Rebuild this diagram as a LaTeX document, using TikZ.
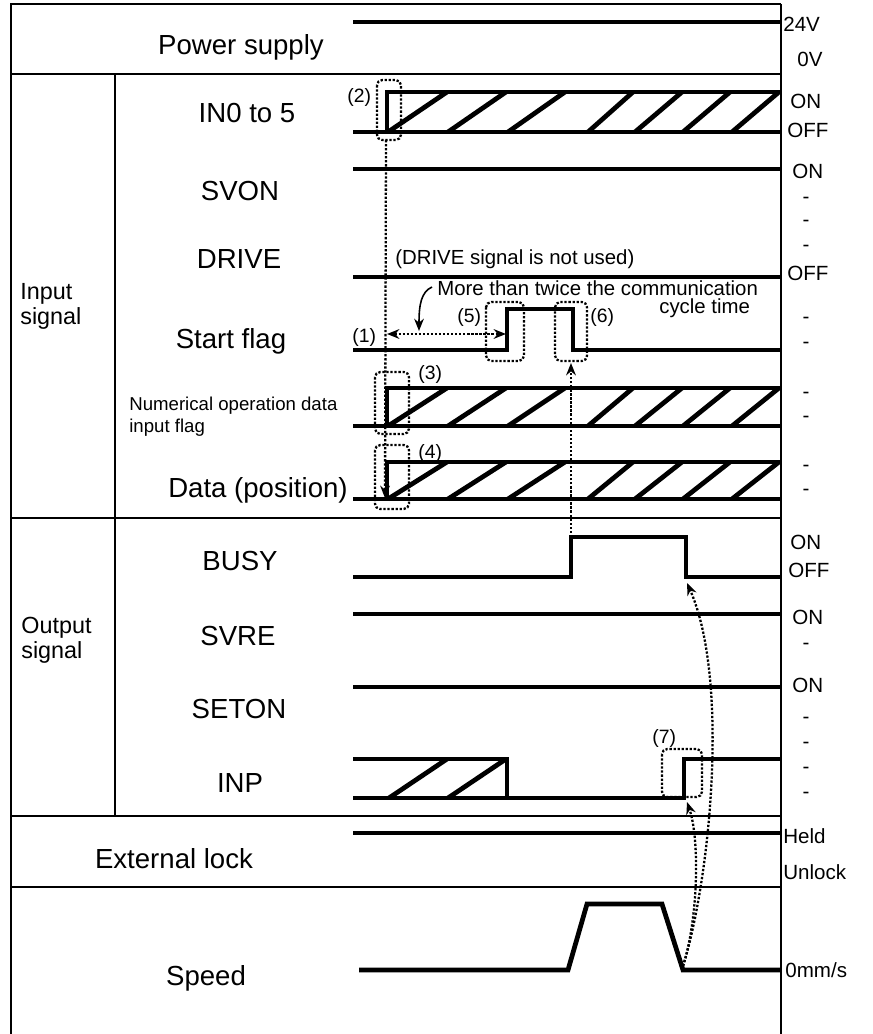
\documentclass[tikz,border=0pt]{standalone}
\usepackage{fontspec}
\setmainfont{Liberation Sans}
\usetikzlibrary{arrows.meta}
\tikzset{
	frame/.style={line width=1.1pt},
	sig/.style={line width=2.7pt},
	dbox/.style={densely dotted,line width=1.3pt,rounded corners=3pt},
	darr/.style={densely dotted,line width=1.3pt},
	big/.style={font=\fontsize{15.7}{18}\selectfont,inner sep=0pt,anchor=base},
	grp/.style={font=\fontsize{13.3}{14.2}\selectfont,inner sep=0pt,anchor=north west,align=left},
	lvl/.style={font=\fontsize{11.7}{14}\selectfont,inner sep=0pt,anchor=base west},
	note/.style={font=\fontsize{11.6}{14}\selectfont,inner sep=0pt,anchor=base west},
	tag/.style={font=\fontsize{11}{13}\selectfont,inner sep=0pt,anchor=base west}
}
\begin{document}
\begin{tikzpicture}[x=0.02cm,y=-0.02cm,>={Stealth[length=7pt,width=5.5pt]}]
	\useasboundingbox (0,0) rectangle (872,1034);
	% frame
	\draw[frame] (11,1034)--(11,4)--(781,4);
	\draw[frame,line width=1.4pt] (781,4)--(781,1034);
	\draw[frame] (11,74)--(781,74);
	\draw[frame] (115,74)--(115,816);
	\draw[frame] (11,518)--(781,518);
	\draw[frame] (11,816)--(781,816);
	\draw[frame] (11,887)--(781,887);
	% left labels
	\node[big] (ps) at (241,55) {Power supply};
	\node[big] (in) at (247,122) {IN0 to 5};
	\node[big] (svon) at (240,200) {SVON};
	\node[big] (drive) at (239,268) {DRIVE};
	\node[big] (start) at (231,348) {Start flag};
	\node[font=\fontsize{10.6}{12.5}\selectfont,inner sep=0pt,anchor=north west,align=left] (num) at (129,397) {Numerical operation data\\input flag};
	\node[big] (data) at (258,497) {Data (position)};
	\node[big] (busy) at (240,570) {BUSY};
	\node[big] (svre) at (238,645) {SVRE};
	\node[big] (seton) at (239,718) {SETON};
	\node[big] (inp) at (240,792) {INP};
	\node[big] (ext) at (174,868) {External lock};
	\node[big] (spd) at (206,985) {Speed};
	\node[grp] (grpin) at (20,283) {Input\\signal};
	\node[grp] (grpout) at (21,617) {Output\\signal};
	% signals
	\draw[sig] (353,22)--(781,22);
	\foreach \yt/\yb in {92/132,388/426,462/499} {
		\draw[sig] (353,\yb)--(781,\yb);
		\draw[sig] (781,\yt)--(387,\yt)--(387,\yb);
		\foreach \xa/\xb in {388/447,448/506,508/565,588/633,635/682,683/730,732/779}
		\draw[sig] (\xa,\yb)--(\xb,\yt);
	}
	\draw[sig] (353,169)--(781,169);
	\draw[sig] (353,277)--(781,277);
	\draw[sig] (353,350)--(507,350)--(507,309)--(573,309)--(573,350)--(781,350);
	\draw[sig] (353,577)--(571,577)--(571,537)--(686,537)--(686,577)--(781,577);
	\draw[sig] (353,614)--(781,614);
	\draw[sig] (353,687)--(781,687);
	\draw[sig] (353,759)--(507,759)--(507,798);
	\draw[sig] (353,798)--(684,798)--(684,759)--(781,759);
	\foreach \xa/\xb in {389/447,448/506}
	\draw[sig] (\xa,798)--(\xb,759);
	\draw[sig] (353,833)--(781,833);
	\draw[sig] (359,970)--(568,970)--(587,904)--(662,904)--(683,970)--(781,970);
	% right levels
	\node[lvl] (l24) at (783,32) {24V};
	\node[lvl] (l0) at (797,67) {0V};
	\node[lvl] (on1) at (790,109) {ON};
	\node[lvl] (off1) at (787,137) {OFF};
	\node[lvl] (on2) at (792,178) {ON};
	\node[lvl] (off2) at (787,280) {OFF};
	\node[lvl] (on3) at (790,549) {ON};
	\node[lvl] (off3) at (788,577) {OFF};
	\node[lvl] (on4) at (792,624) {ON};
	\node[lvl] (on5) at (792,692) {ON};
	\node[lvl] (held) at (783,843) {Held};
	\node[lvl] (unlock) at (783,879) {Unlock};
	\node[lvl] (zero) at (785,977) {0mm/s};
	\foreach \y [count=\i] in {203,226,251,323,348,398,422,471,495,649,723,748,773,798}
	\node[lvl,anchor=base] (dash\i) at (806,\y) {-};
	% notes
	\node[note] (unused) at (395,264) {(DRIVE signal is not used)};
	\node[note] (twice) at (437,295) {More than twice the communication};
	\node[note] (cycle) at (659,313) {cycle time};
	\node[tag] (t1) at (352,342) {(1)};
	\node[tag] (t2) at (347,103) {(2)};
	\node[tag] (t3) at (418,379) {(3)};
	\node[tag] (t4) at (418,458) {(4)};
	\node[tag] (t5) at (457,322) {(5)};
	\node[tag] (t6) at (590,322) {(6)};
	\node[tag] (t7) at (652,743) {(7)};
	% dotted boxes
	\draw[dbox] (377,80) rectangle (401,140);
	\draw[dbox] (375,372) rectangle (409,434);
	\draw[dbox] (375,445) rectangle (409,509);
	\draw[dbox] (486,302) rectangle (524,361);
	\draw[dbox] (555,302) rectangle (587,361);
	\draw[dbox] (662,749) rectangle (702,797);
	% dotted arrows
	\coordinate (b2) at (386,140);
	\coordinate (dend) at (385,498);
	\coordinate (sL) at (387,334);
	\coordinate (sR) at (506,334);
	\coordinate (bon) at (571,537);
	\coordinate (b6) at (571,363);
	\coordinate (stop) at (683,966);
	\coordinate (boff) at (687,583);
	\coordinate (ion) at (687,802);
	\draw[darr,->] (b2)--(dend);
	\draw[darr,<->] (sL)--(sR);
	\draw[darr,->] (bon)--(b6);
	\draw[darr,->] (stop) .. controls (710,880) and (730,680) .. (boff);
	\draw[darr,->] (stop) .. controls (698,920) and (700,840) .. (ion);
	\draw[line width=0.9pt,->] (twice.base west)++(-5,-8) .. controls (421,292) and (419,305) .. (419,331);
\end{tikzpicture}
\end{document}
